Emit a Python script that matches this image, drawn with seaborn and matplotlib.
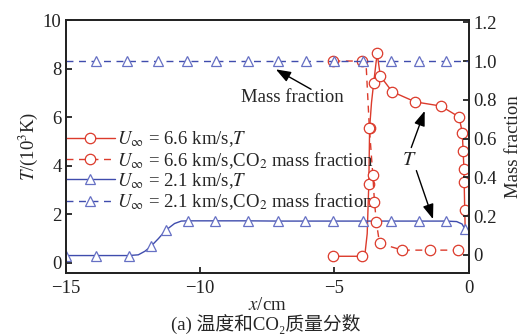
import matplotlib
matplotlib.use("Agg")
import matplotlib.pyplot as plt
from matplotlib.lines import Line2D
import seaborn as sns

# Flow at U = 6.6 km/s: temperature (10^3 K) and CO2 mass fraction vs x (cm)
x_66_T = [-5.04, -3.99, -3.86, -3.78, -3.72, -3.69, -3.62, -3.54, -3.41, -3.29,
          -2.85, -1.99, -1.04, -0.36, -0.24, -0.21, -0.18, -0.17, -0.15, -0.13]
T_66 = [0.27, 0.27, 0.40, 1.20, 3.26, 5.56, 6.60, 7.40, 8.63, 7.69,
        7.05, 6.63, 6.46, 6.01, 5.36, 4.62, 3.88, 3.31, 2.16, 1.30]
x_66_m = [-5.04, -3.99, -3.82, -3.70, -3.57, -3.51, -3.44, -3.32, -2.47, -1.43, -0.40]
m_66 = [1.0, 1.0, 0.98, 0.655, 0.41, 0.275, 0.17, 0.06, 0.025, 0.025, 0.025]

# Flow at U = 2.1 km/s
x_21_T = [-15.0, -13.87, -12.66, -12.30, -12.05, -11.83, -11.55, -11.28, -10.95, -10.70,
          -10.46, -9.43, -8.22, -7.09, -6.09, -5.04, -3.94, -2.88, -1.85, -0.86,
          -0.45, -0.25, -0.15, 0.0]
T_21 = [0.30, 0.30, 0.30, 0.33, 0.48, 0.68, 1.00, 1.34, 1.62, 1.72,
        1.73, 1.73, 1.73, 1.72, 1.72, 1.72, 1.72, 1.72, 1.72, 1.72,
        1.70, 1.60, 1.41, 1.35]
x_21_m = [-15.0, -13.89, -12.71, -11.56, -10.47, -9.42, -8.23, -7.09, -6.05,
          -5.00, -3.94, -2.88, -1.85, -0.83, 0.0]
m_21 = [1.0, 1.0, 1.0, 1.0, 1.0, 1.0, 1.0, 1.0, 1.0, 1.0, 1.0, 1.0, 1.0, 1.0, 1.0]

series_labels = [
    r"$U_{\infty}$ = 6.6 km/s,$T$",
    r"$U_{\infty}$ = 6.6 km/s,CO$_2$ mass fraction",
    r"$U_{\infty}$ = 2.1 km/s,$T$",
    r"$U_{\infty}$ = 2.1 km/s,CO$_2$ mass fraction",
]

x_ticks = [-15, -10, -5, 0]
x_tick_labels = ["\u221215", "\u221210", "\u22125", "0"]
T_ticks = [0, 2, 4, 6, 8, 10]
T_tick_labels = ["0", "2", "4", "6", "8", "10"]
m_ticks = [0, 0.2, 0.4, 0.6, 0.8, 1.0, 1.2]
m_tick_labels = ["0", "0.2", "0.4", "0.6", "0.8", "1.0", "1.2"]

# points of each series that carry a marker symbol
mark_66_T = [0, 1, 4, 5, 7, 8, 9, 10, 11, 12, 13, 14, 15, 16, 17, 18]
mark_66_m = [0, 1, 3, 4, 5, 6, 7, 8, 9, 10]
mark_21_T = [0, 1, 2, 5, 7, 10, 11, 12, 13, 14, 15, 16, 17, 18, 19, 22]
mark_21_m = list(range(1, 14))

sns.set_style("ticks")
plt.rcParams["font.family"] = ["Liberation Serif", "DejaVu Serif"]
plt.rcParams["mathtext.fontset"] = "stix"
FS = 13.5

RED = "#dc3b2c"
BLUE = "#3f4cad"
SPINE = "#222222"

fig = plt.figure(figsize=(5.22, 3.35), dpi=100)
ax = fig.add_axes([0.126, 0.185, 0.772, 0.755])
ax2 = ax.twinx()

red_style = dict(color=RED, marker="o", markersize=7.5, markerfacecolor="white",
                 markeredgecolor=RED, markeredgewidth=0.9)
blue_style = dict(color=BLUE, marker="^", markersize=6.5, markerfacecolor="white",
                  markeredgecolor="#6670c4", markeredgewidth=0.9)

sns.lineplot(x=x_66_T, y=T_66, ax=ax, sort=False, estimator=None, lw=1.0,
             markevery=mark_66_T, **red_style)
sns.lineplot(x=x_21_T, y=T_21, ax=ax, sort=False, estimator=None, lw=1.0,
             markevery=mark_21_T, **blue_style)
sns.lineplot(x=x_66_m, y=m_66, ax=ax2, sort=False, estimator=None, lw=1.0,
             linestyle=(0, (5, 4)), markevery=mark_66_m, **red_style)
sns.lineplot(x=x_21_m, y=m_21, ax=ax2, sort=False, estimator=None, lw=1.0,
             linestyle=(0, (5, 4)), markevery=mark_21_m, **blue_style)

ax.set_xlim(-15, 0)
ax.set_ylim(-0.42, 10)
ax2.set_ylim(-0.093, 1.211)

ax.set_xticks(x_ticks)
ax.set_xticklabels(x_tick_labels)
ax.set_yticks(T_ticks)
ax.set_yticklabels(T_tick_labels)
ax2.set_yticks(m_ticks)
ax2.set_yticklabels(m_tick_labels)

for a in (ax, ax2):
    for s in a.spines.values():
        s.set_linewidth(1.3)
        s.set_color(SPINE)
    a.tick_params(direction="in", length=4.5, width=1.3, color=SPINE,
                  labelsize=FS, labelcolor="#222222")
ax.tick_params(axis="x", pad=5)
ax.tick_params(axis="y", pad=3)
ax2.tick_params(axis="y", pad=3)

ax.set_xlabel("$x$/cm", fontsize=FS, labelpad=0)
ax.set_ylabel("$T$/(10$^3$K)", fontsize=FS, labelpad=2)
ax2.set_ylabel("Mass fraction", fontsize=FS, labelpad=6)

# legend with long handles showing line style and marker
handles = [
    Line2D([], [], lw=1.0, **red_style),
    Line2D([], [], lw=1.0, linestyle=(0, (5, 4)), **red_style),
    Line2D([], [], lw=1.0, **blue_style),
    Line2D([], [], lw=1.0, linestyle=(0, (5, 4)), **blue_style),
]
for lg in (ax.get_legend(), ax2.get_legend()):
    if lg is not None:
        lg.remove()
ax.legend(handles, series_labels, loc="upper left", bbox_to_anchor=(0.0, 0.567),
          frameon=False, fontsize=FS, handlelength=2.6, handletextpad=0.15,
          labelspacing=0.02, borderpad=0, borderaxespad=0)

# annotations
arrow = dict(arrowstyle="-|>,head_length=0.6,head_width=0.22", color="black",
             lw=1.0, shrinkA=0, shrinkB=0, mutation_scale=15)
ax.text(-6.55, 6.8, "Mass fraction", fontsize=FS, ha="center", va="center")
ax.annotate("", xy=(-7.18, 7.97), xytext=(-5.87, 7.15), arrowprops=arrow)
ax.text(-2.2, 4.2, "$T$", fontsize=FS + 1, ha="center", va="center")
ax.annotate("", xy=(-1.64, 6.26), xytext=(-2.14, 4.75), arrowprops=arrow)
ax.annotate("", xy=(-1.33, 1.8), xytext=(-1.95, 3.8), arrowprops=arrow)

fig.text(266 / 522, 1 - 324 / 335, "(a) 温度和CO\u2082质量分数", fontsize=FS,
         ha="center", va="center", family=["Liberation Serif", "Noto Sans CJK SC"])

fig.savefig("out.png", dpi=100)
